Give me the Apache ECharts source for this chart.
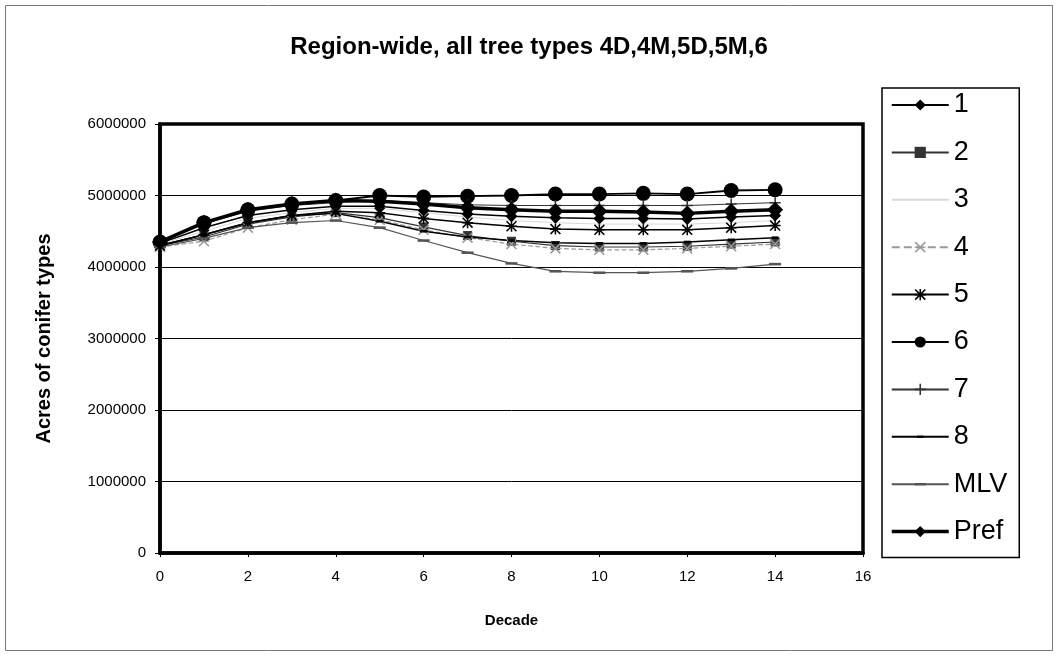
<!DOCTYPE html>
<html>
<head>
<meta charset="utf-8">
<title>Region-wide, all tree types</title>
<script src="https://cdn.jsdelivr.net/npm/echarts@6/dist/echarts.min.js"></script>
<style>
  html, body { margin: 0; padding: 0; background: #fff; }
  #chart { width: 1058px; height: 658px; }
</style>
</head>
<body>
<div id="chart"></div>
<script>
// decades 0..14
var decades = [0, 1, 2, 3, 4, 5, 6, 7, 8, 9, 10, 11, 12, 13, 14];

var s1   = [4330000, 4550000, 4720000, 4800000, 4850000, 4850000, 4790000, 4740000, 4710000, 4690000, 4680000, 4680000, 4670000, 4700000, 4720000];
var s2   = [4300000, 4420000, 4600000, 4700000, 4760000, 4690000, 4560000, 4440000, 4360000, 4300000, 4280000, 4280000, 4290000, 4320000, 4350000];
var s3   = [4320000, 4500000, 4680000, 4760000, 4820000, 4820000, 4760000, 4700000, 4650000, 4620000, 4600000, 4600000, 4600000, 4620000, 4650000];
var s4   = [4280000, 4360000, 4550000, 4660000, 4740000, 4660000, 4520000, 4410000, 4320000, 4260000, 4240000, 4240000, 4260000, 4290000, 4320000];
var s5   = [4300000, 4450000, 4620000, 4720000, 4780000, 4760000, 4680000, 4620000, 4570000, 4530000, 4520000, 4520000, 4520000, 4550000, 4580000];
var s6   = [4350000, 4620000, 4800000, 4880000, 4930000, 5000000, 4980000, 4990000, 5000000, 5020000, 5020000, 5030000, 5020000, 5070000, 5080000];
var s7   = [4350000, 4600000, 4780000, 4860000, 4900000, 4930000, 4900000, 4870000, 4860000, 4860000, 4860000, 4860000, 4860000, 4880000, 4900000];
var s8   = [4300000, 4450000, 4620000, 4720000, 4750000, 4640000, 4500000, 4420000, 4370000, 4340000, 4330000, 4330000, 4350000, 4380000, 4410000];
var mlv  = [4280000, 4400000, 4550000, 4620000, 4650000, 4550000, 4370000, 4200000, 4050000, 3940000, 3920000, 3920000, 3940000, 3980000, 4040000];
var pref = [4350000, 4620000, 4800000, 4880000, 4930000, 4920000, 4880000, 4830000, 4800000, 4780000, 4780000, 4770000, 4750000, 4780000, 4800000];

var yTicks = [0, 1000000, 2000000, 3000000, 4000000, 5000000, 6000000];
var xTicks = [0, 2, 4, 6, 8, 10, 12, 14, 16];

var plusPath = 'path://M4.3,0H5.7V10H4.3Z M0,4.3H10V5.7H0Z';
var starPath = 'path://M4.3,0H5.7V10H4.3Z M0,4.3H10V5.7H0Z M1,0L10,9L9,10L0,1Z M9,0L10,1L1,10L0,9Z';
var crossPath = 'path://M1,0L10,9L9,10L0,1Z M9,0L10,1L1,10L0,9Z M0,4.5H3V5.5H0Z M7,4.5H10V5.5H7Z';
// square bounding box (via extra moveTo points) so the dash keeps its shape
var dashPath = 'path://M0,0M14,14M3,5.5H11V8.5H3Z';
var longDashPath = 'path://M0,0M14,14M0,5.5H14V8.5H0Z';

function pts(arr) {
  return arr.map(function (v, i) { return [decades[i], v]; });
}

function line(name, data, color, width, symbol, size, type) {
  return {
    name: name,
    type: 'line',
    data: pts(data),
    symbol: symbol,
    symbolSize: size,
    symbolKeepAspect: true,
    showSymbol: symbol !== 'none',
    lineStyle: { color: color, width: width, type: type || 'solid' },
    itemStyle: { color: color },
    z: 3
  };
}

var chart = echarts.init(document.getElementById('chart'));

var option = {
  animation: false,
  backgroundColor: '#fff',
  title: {
    text: 'Region-wide, all tree types 4D,4M,5D,5M,6',
    left: 'center',
    top: 30,
    textStyle: { fontFamily: 'Liberation Sans', fontSize: 24, fontWeight: 'bold', color: '#000' }
  },
  graphic: [{
    type: 'rect',
    shape: { x: 5.5, y: 5.5, width: 1047, height: 645 },
    style: { fill: 'none', stroke: '#777', lineWidth: 1 },
    silent: true
  }],
  legend: {
    orient: 'vertical',
    left: 882,
    top: 88,
    padding: [3, 12, 12, 8],
    borderColor: '#000',
    borderWidth: 1.5,
    itemWidth: 57,
    itemHeight: 14,
    itemGap: 19.4,
    textStyle: { fontFamily: 'Liberation Sans', fontSize: 27, lineHeight: 28, color: '#000' },
    data: [
      '1', '2',
      { name: '3', itemStyle: { color: 'rgba(0,0,0,0)', borderWidth: 0 } },
      '4', '5', '6', '7', '8', 'MLV',
      { name: 'Pref', lineStyle: { width: 3.5, color: '#000' } }
    ]
  },
  grid: {
    left: 160,
    right: 195,
    top: 124,
    bottom: 105,
    show: true,
    borderColor: '#000',
    borderWidth: 3.5,
    backgroundColor: '#fff'
  },
  xAxis: {
    type: 'value',
    min: xTicks[0],
    max: xTicks[xTicks.length - 1],
    interval: 2,
    name: 'Decade',
    nameLocation: 'middle',
    nameGap: 60,
    nameTextStyle: { fontFamily: 'Liberation Sans', fontSize: 15, fontWeight: 'bold', color: '#000' },
    axisLine: { show: true, lineStyle: { color: '#000', width: 3.5 } },
    axisTick: { show: true, inside: false, length: 4, lineStyle: { color: '#000' } },
    axisLabel: { fontFamily: 'Liberation Sans', fontSize: 15, color: '#000', margin: 16 },
    splitLine: { show: false }
  },
  yAxis: {
    type: 'value',
    min: yTicks[0],
    max: yTicks[yTicks.length - 1],
    interval: 1000000,
    name: 'Acres of conifer types',
    nameLocation: 'middle',
    nameGap: 106,
    nameTextStyle: { fontFamily: 'Liberation Sans', fontSize: 20, fontWeight: 'bold', color: '#000' },
    axisLine: { show: true, lineStyle: { color: '#000', width: 3.5 } },
    axisTick: { show: true, inside: false, length: 5, lineStyle: { color: '#000' } },
    axisLabel: {
      fontFamily: 'Liberation Sans', fontSize: 15, color: '#000', margin: 14,
      formatter: function (v) { return String(v); }
    },
    splitLine: { show: true, lineStyle: { color: '#000', width: 1 } }
  },
  series: [
    line('1', s1, '#000', 1.5, 'diamond', 12),
    line('2', s2, '#333', 1.2, 'rect', 9),
    line('3', s3, '#d8d8d8', 1, 'none', 0),
    line('4', s4, '#999', 1.2, crossPath, 11, 'dashed'),
    line('5', s5, '#000', 1.5, starPath, 11),
    line('6', s6, '#000', 1.8, 'circle', 15),
    line('7', s7, '#333', 1, plusPath, 11),
    line('8', s8, '#000', 1.5, dashPath, 12),
    line('MLV', mlv, '#555', 1.2, longDashPath, 12),
    line('Pref', pref, '#000', 3.5, 'diamond', 16)
  ]
};

chart.setOption(option);
</script>
</body>
</html>
